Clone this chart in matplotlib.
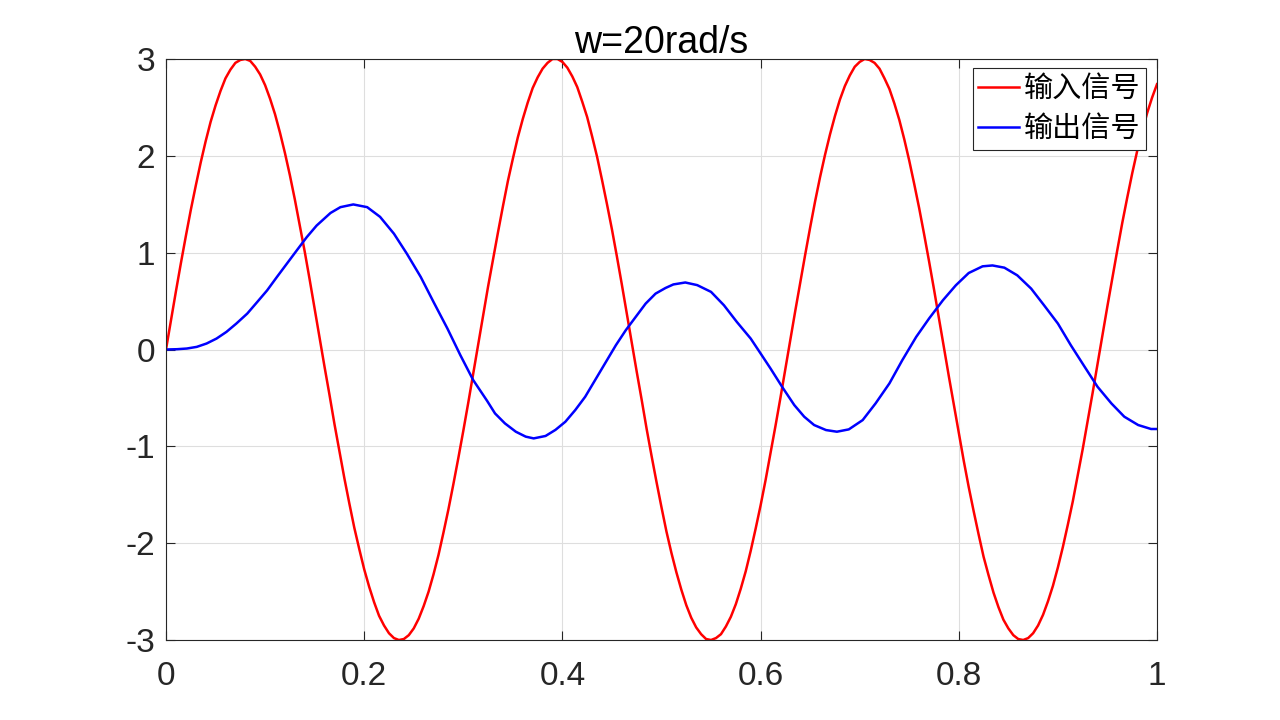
import matplotlib
matplotlib.use("Agg")
import matplotlib.pyplot as plt

plt.rcParams['font.family'] = ['Liberation Sans', 'Noto Sans CJK SC', 'DejaVu Sans']
plt.rcParams['axes.unicode_minus'] = False

# Input signal, read at t = 0, 0.01, ..., 1.00
y_in_whole = [0.00, 0.60, 1.17, 1.69, 2.15, 2.52, 2.80, 2.96, 3.00, 2.92,
              2.73, 2.43, 2.03, 1.55, 1.01, 0.42, -0.18, -0.77, -1.33, -1.84,
              -2.27, -2.61, -2.85, -2.98, -2.99, -2.88, -2.65, -2.32, -1.89, -1.39,
              -0.84, -0.25, 0.35, 0.93, 1.48, 1.97, 2.38, 2.70, 2.90, 3.00,
              2.97, 2.82, 2.56, 2.20, 1.75, 1.24, 0.67, 0.07, -0.52, -1.10,
              -1.63, -2.10, -2.48, -2.77, -2.94, -3.00, -2.94, -2.76, -2.47, -2.08,
              -1.61, -1.07, -0.50, 0.10, 0.69, 1.26, 1.78, 2.22, 2.58, 2.83,
              2.97, 2.99, 2.90, 2.69, 2.37, 1.95, 1.46, 0.91, 0.32, -0.28,
              -0.86, -1.42, -1.91, -2.33, -2.66, -2.88, -2.99, -2.98, -2.85, -2.60,
              -2.25, -1.81, -1.30, -0.74, -0.15, 0.45, 1.03, 1.57, 2.05, 2.44,
              2.74]
# Input signal, read at t = 0.005, 0.015, ..., 0.995
y_in_half = [0.30, 0.89, 1.44, 1.93, 2.35, 2.67, 2.89, 2.99, 2.98, 2.84,
             2.59, 2.24, 1.80, 1.28, 0.72, 0.12, -0.47, -1.05, -1.59, -2.06,
             -2.45, -2.75, -2.93, -3.00, -2.95, -2.78, -2.50, -2.12, -1.65, -1.12,
             -0.55, 0.05, 0.65, 1.21, 1.74, 2.19, 2.55, 2.81, 2.96, 3.00,
             2.91, 2.71, 2.40, 1.99, 1.50, 0.96, 0.37, -0.23, -0.82, -1.37,
             -1.88, -2.30, -2.64, -2.87, -2.99, -2.98, -2.86, -2.63, -2.29, -1.85,
             -1.35, -0.79, -0.20, 0.40, 0.98, 1.53, 2.01, 2.41, 2.72, 2.92,
             3.00, 2.96, 2.80, 2.54, 2.17, 1.71, 1.19, 0.62, 0.02, -0.57,
             -1.15, -1.67, -2.14, -2.51, -2.79, -2.95, -3.00, -2.93, -2.74, -2.44,
             -2.04, -1.57, -1.03, -0.45, 0.15, 0.74, 1.31, 1.82, 2.25, 2.60]

y_in = []
for a, b in zip(y_in_whole, y_in_half):
    y_in += [a, b]
y_in.append(y_in_whole[-1])
t_in = [k / 200 for k in range(len(y_in))]

# Output signal
t_out = [0.000, 0.011, 0.021, 0.031, 0.041, 0.051, 0.061, 0.071, 0.082, 0.092,
         0.102, 0.112, 0.122, 0.132, 0.142, 0.152, 0.166, 0.176, 0.189, 0.203,
         0.216, 0.230, 0.243, 0.257, 0.270, 0.284, 0.297, 0.310, 0.324, 0.332,
         0.342, 0.353, 0.363, 0.371, 0.383, 0.393, 0.403, 0.413, 0.423, 0.433,
         0.443, 0.454, 0.464, 0.474, 0.484, 0.494, 0.504, 0.512, 0.524, 0.536,
         0.550, 0.563, 0.576, 0.590, 0.600, 0.610, 0.622, 0.634, 0.644, 0.654,
         0.666, 0.677, 0.689, 0.703, 0.716, 0.730, 0.743, 0.757, 0.770, 0.784,
         0.797, 0.810, 0.824, 0.834, 0.846, 0.859, 0.873, 0.886, 0.900, 0.913,
         0.927, 0.940, 0.954, 0.967, 0.981, 0.994, 1.000]
y_out = [0.000, 0.003, 0.010, 0.027, 0.062, 0.113, 0.182, 0.268, 0.371, 0.490,
         0.610, 0.750, 0.887, 1.024, 1.160, 1.280, 1.410, 1.470, 1.498, 1.470,
         1.370, 1.196, 0.990, 0.750, 0.490, 0.216, -0.058, -0.316, -0.530, -0.660,
         -0.763, -0.849, -0.900, -0.918, -0.893, -0.830, -0.746, -0.625, -0.488, -0.316,
         -0.144, 0.045, 0.200, 0.337, 0.474, 0.577, 0.635, 0.672, 0.692, 0.665,
         0.595, 0.457, 0.285, 0.113, -0.041, -0.196, -0.390, -0.574, -0.694, -0.780,
         -0.832, -0.849, -0.825, -0.729, -0.557, -0.350, -0.110, 0.130, 0.320, 0.509,
         0.663, 0.790, 0.859, 0.868, 0.845, 0.766, 0.629, 0.457, 0.268, 0.045,
         -0.179, -0.385, -0.557, -0.694, -0.780, -0.821, -0.821]

x_ticks = [0, 0.2, 0.4, 0.6, 0.8, 1]
x_labels = ['0', '0.2', '0.4', '0.6', '0.8', '1']
y_ticks = [-3, -2, -1, 0, 1, 2, 3]
y_labels = ['-3', '-2', '-1', '0', '1', '2', '3']

fig = plt.figure(figsize=(12.8, 7.2), dpi=100)
ax = fig.add_axes([166 / 1280, 1 - 640 / 720, (1157 - 166) / 1280, (640 - 59) / 720])

ax.plot(t_in, y_in, color='#ff0000', lw=1.8, label='输入信号')
ax.plot(t_out, y_out, color='#0000ff', lw=1.8, label='输出信号')

ax.set_xlim(0, 1)
ax.set_ylim(-3, 3)
ax.set_xticks(x_ticks)
ax.set_xticklabels(x_labels)
ax.set_yticks(y_ticks)
ax.set_yticklabels(y_labels)
ax.grid(True, color='#dedede', lw=0.8)
ax.set_axisbelow(True)
for s in ax.spines.values():
    s.set_color('#262626')
    s.set_linewidth(0.8)
ax.tick_params(direction='in', length=6.5, width=0.8, colors='#262626',
               labelsize=24, top=True, right=True)
ax.tick_params(axis='x', pad=15)
ax.tick_params(axis='y', pad=8)
ax.set_title('w=20rad/s', fontsize=27, color='#000000', pad=4)

leg = ax.legend(loc='upper right', bbox_to_anchor=(1146 / 1280, 1 - 68 / 720),
                bbox_transform=fig.transFigure, borderaxespad=0,
                frameon=True, fancybox=False, borderpad=0.2, labelspacing=0.34,
                handlelength=1.4, handletextpad=0.15,
                prop={'family': ['Noto Sans CJK SC'], 'size': 21})
leg.get_frame().set_edgecolor('#262626')
leg.get_frame().set_linewidth(0.8)
leg.get_frame().set_alpha(1)

fig.savefig('out.png', dpi=100)
